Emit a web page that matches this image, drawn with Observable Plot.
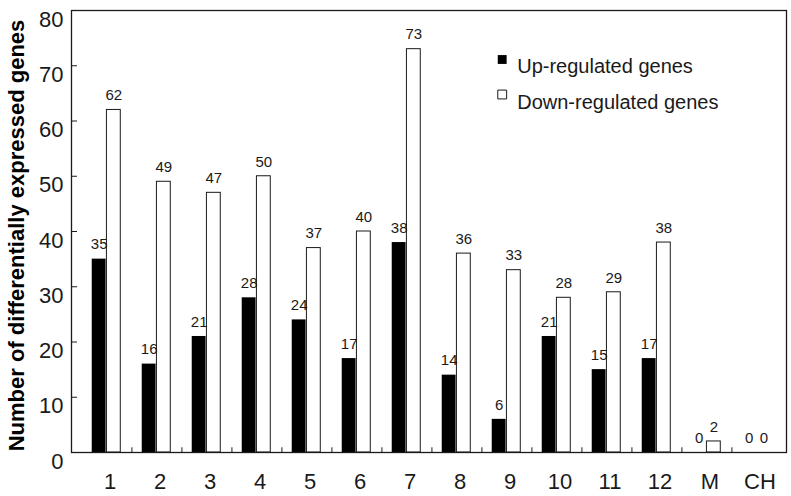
<!DOCTYPE html>
<html>
<head>
<meta charset="utf-8">
<script src="https://cdn.jsdelivr.net/npm/d3@7"></script>
<script src="https://cdn.jsdelivr.net/npm/@observablehq/plot@0.6"></script>
<style>
  html, body { margin: 0; padding: 0; background: #fff; }
  svg { display: block; }
</style>
</head>
<body>
<div id="chart"></div>
<script>
const categories = ["1", "2", "3", "4", "5", "6", "7", "8", "9", "10", "11", "12", "M", "CH"];
const upRegulated = [35, 16, 21, 28, 24, 17, 38, 14, 6, 21, 15, 17, 0, 0];
const downRegulated = [62, 49, 47, 50, 37, 40, 73, 36, 33, 28, 29, 38, 2, 0];
const yTicks = [0, 10, 20, 30, 40, 50, 60, 70, 80];
const seriesNames = ["Up-regulated genes", "Down-regulated genes"];
const yTitle = "Number of differentially expressed genes";

const up = categories.map((c, i) => ({cat: c, value: upRegulated[i]}));
const down = categories.map((c, i) => ({cat: c, value: downRegulated[i]}));

const ink = "#1a1a1a";

const chart = Plot.plot({
  width: 791,
  height: 496,
  marginLeft: 71,
  marginRight: 5,
  marginTop: 10,
  marginBottom: 44,
  style: {fontFamily: "'Liberation Sans', Arial, sans-serif", background: "#fff", color: ink},
  x: {type: "band", domain: categories, range: [74.575, 786.475], padding: 0},
  y: {domain: [0, 80]},
  marks: [
    Plot.barY(up, {x: "cat", y: "value", fill: "#000", insetLeft: 10.725, insetRight: 25.425}),
    Plot.barY(down, {x: "cat", y: "value", fill: "#fff", stroke: ink, strokeWidth: 1, insetLeft: 25.425, insetRight: 10.725}),
    Plot.text(up, {x: "cat", y: "value", text: d => String(d.value), dx: -7.35, dy: -14.5, fontSize: 15, fill: ink}),
    Plot.text(down, {x: "cat", y: "value", text: d => String(d.value), dx: 7.35, dy: -14.5, fontSize: 15, fill: ink}),
    Plot.ruleX(categories.slice(0, -1), {x: d => d, y1: 0, y2: 0.85, dx: 25.425, stroke: ink}),
    Plot.frame({stroke: ink, strokeWidth: 1.3}),
    Plot.axisX({tickSize: 0, tickPadding: 21, fontSize: 22, dx: 3.5, label: null}),
    Plot.axisY({ticks: yTicks, tickSize: 0, tickPadding: 8, dy: 9, fontSize: 22, label: null}),
    Plot.axisY({ticks: yTicks, anchor: "right", frameAnchor: "left", tickSize: 5, tickFormat: () => "", label: null}),
    Plot.text([yTitle], {frameAnchor: "left", textAnchor: "middle", rotate: -90, dx: -54.6, dy: 4, fontSize: 22, fontWeight: "bold", fill: "#000"}),
    Plot.dot([seriesNames[0]], {frameAnchor: "top-left", dx: 430.7, dy: 49, symbol: "square", r: 5, fill: "#000"}),
    Plot.dot([seriesNames[1]], {frameAnchor: "top-left", dx: 430.7, dy: 84, symbol: "square", r: 5, fill: "#fff", stroke: ink, strokeWidth: 1}),
    Plot.text([seriesNames[0]], {frameAnchor: "top-left", dx: 445.7, dy: 48.7, textAnchor: "start", fontSize: 20, fill: ink}),
    Plot.text([seriesNames[1]], {frameAnchor: "top-left", dx: 445.7, dy: 84, textAnchor: "start", fontSize: 20, fill: ink})
  ]
});
document.getElementById("chart").appendChild(chart);
</script>
</body>
</html>
